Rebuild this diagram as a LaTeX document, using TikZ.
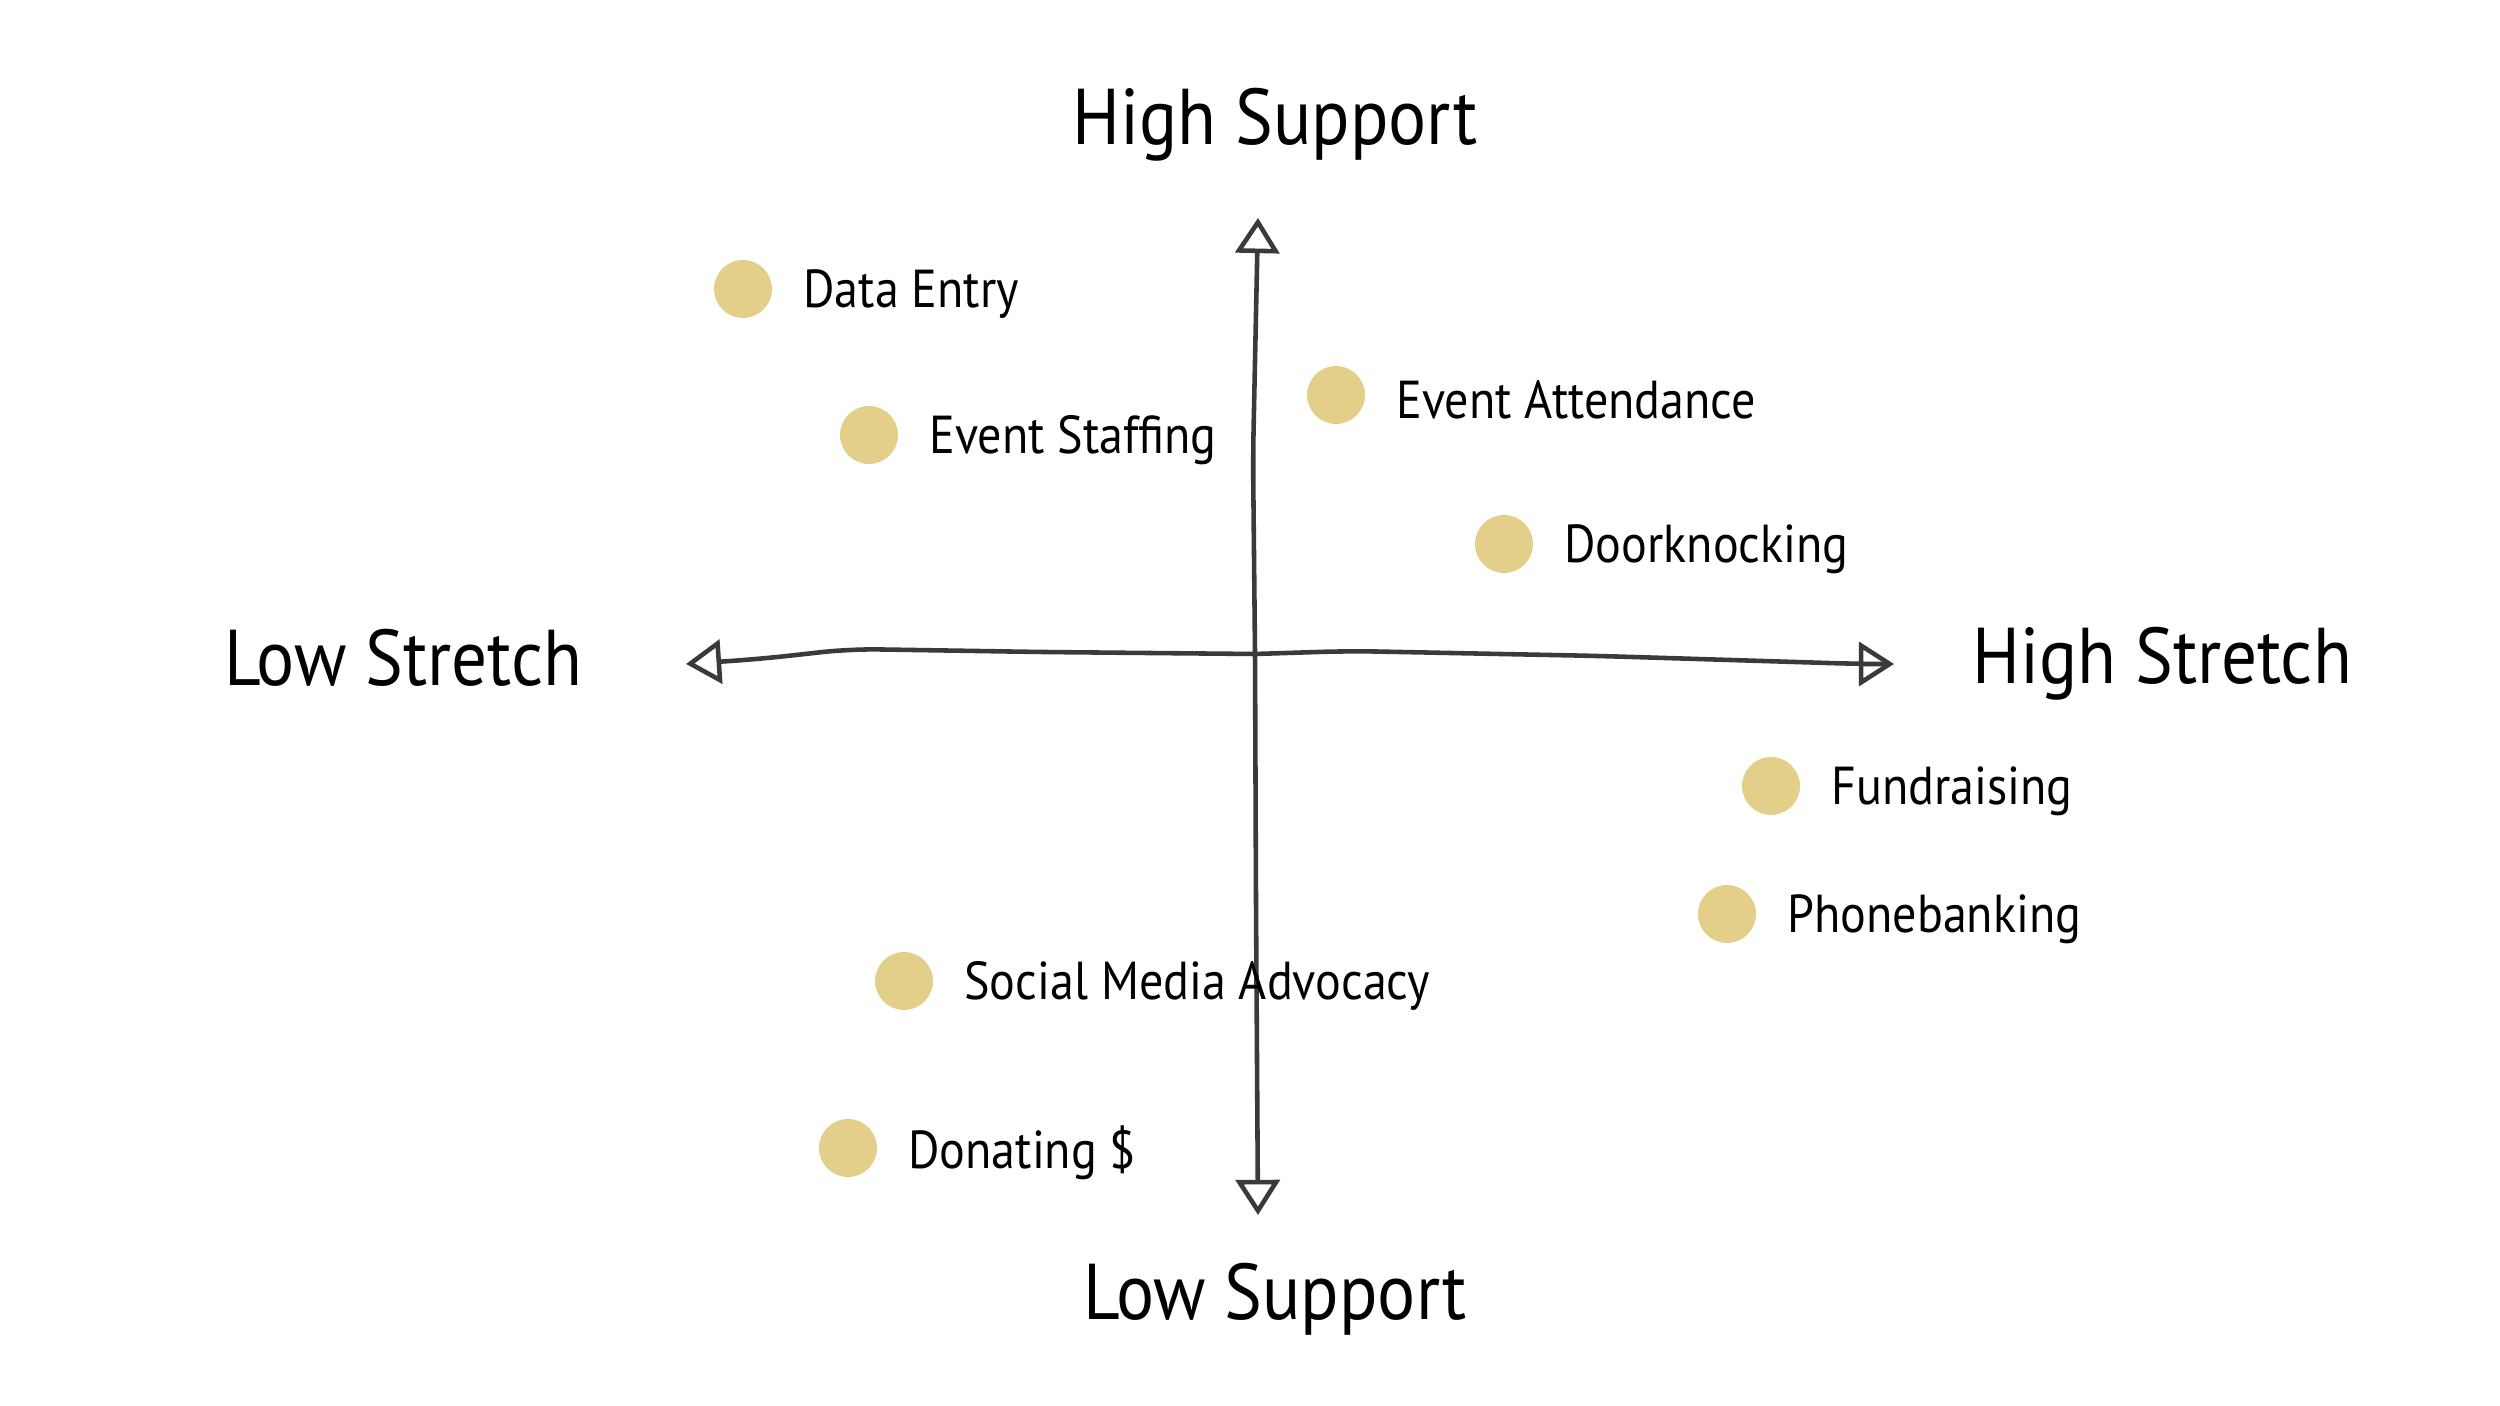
\documentclass[tikz,border=0pt]{standalone}
\usepackage{fontspec}
\setmainfont{PT Sans}[FakeStretch=0.9]
\usepackage{tikz}
\usetikzlibrary{arrows.meta, positioning}

\definecolor{dotfill}{HTML}{E3CF8A}
\definecolor{axisgray}{HTML}{3A3A3A}

\begin{document}
\begin{tikzpicture}[
        axis/.style={axisgray, line width=1.3pt, line cap=round, line join=round, rounded corners=8pt,
            -{Triangle[open, length=10pt, width=12.5pt, line width=1.3pt]}},
        blob/.style={circle, fill=dotfill, minimum size=0.58cm, inner sep=0pt},
        item/.style={inner sep=0pt, right=0.3cm of #1, yshift=-0.05cm, font=\fontsize{15.2}{18}\selectfont, anchor=west},
        pole/.style={font=\fontsize{22.5}{27}\selectfont}
    ]
        \useasboundingbox (0,0) rectangle (25,14.06);

        % axes
        \coordinate (o)  at (12.55, 7.52);
        \coordinate (lt) at (6.86, 7.42);
        \coordinate (rt) at (18.94, 7.42);
        \coordinate (tp) at (12.58, 11.88);
        \coordinate (bt) at (12.58, 1.91);
        \draw[axis] (o) -- (10.4, 7.54) -- (8.5, 7.57) -- (7.6, 7.47) -- (lt);
        \draw[axis] (o) -- (13.5, 7.55) -- (16.0, 7.50) -- (18.6, 7.42) -- (rt);
        \draw[axis] (o) -- (12.53, 9.5) -- (tp);
        \draw[axis] (o) -- (12.56, 5.0) -- (bt);

        % pole labels
        \node[pole] (hs) at (12.75, 12.81) {High Support};
        \node[pole] (ls) at (12.75, 1.07) {Low Support};
        \node[pole] (lo) at (4.03, 7.48) {Low Stretch};
        \node[pole] (hi) at (21.62, 7.42) {High Stretch};

        % activities
        \node[blob] (de) at (7.43, 11.17) {};
        \node[item=de] {Data Entry};
        \node[blob] (es) at (8.69, 9.71) {};
        \node[item=es] {Event Staffing};
        \node[blob] (ea) at (13.36, 10.11) {};
        \node[item=ea] {Event Attendance};
        \node[blob] (dk) at (15.04, 8.62) {};
        \node[item=dk] {Doorknocking};
        \node[blob] (fr) at (17.71, 6.20) {};
        \node[item=fr] {Fundraising};
        \node[blob] (pb) at (17.27, 4.92) {};
        \node[item=pb] {Phonebanking};
        \node[blob] (sm) at (9.04, 4.25) {};
        \node[item=sm] {Social Media Advocacy};
        \node[blob] (dn) at (8.48, 2.58) {};
        \node[item=dn] {Donating \$};
\end{tikzpicture}
\end{document}
